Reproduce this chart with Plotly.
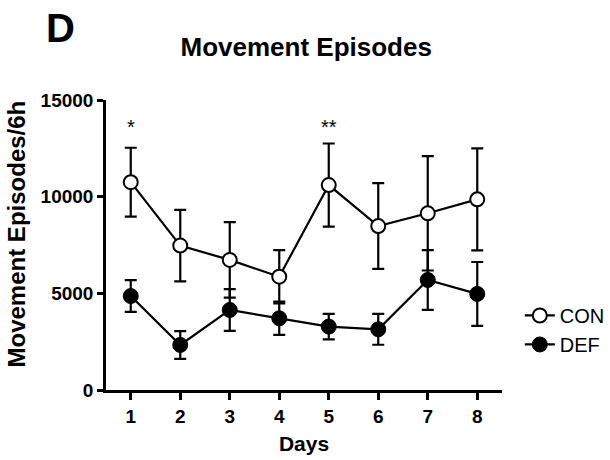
import plotly.graph_objects as go

days = [1, 2, 3, 4, 5, 6, 7, 8]
con_mean = [10750, 7470, 6730, 5860, 10600, 8480, 9140, 9860]
con_err = [1780, 1850, 1950, 1380, 2150, 2220, 2960, 2640]
def_mean = [4860, 2330, 4140, 3710, 3280, 3140, 5690, 4970]
def_err = [820, 720, 1080, 860, 660, 800, 1550, 1650]
y_ticks = [0, 5000, 10000, 15000]
sig_days = [1, 5]
sig_labels = ["*", "**"]
sig_y = [13600, 13600]

FONT = "Liberation Sans, Arial, Helvetica, sans-serif"

fig = go.Figure()
fig.add_trace(go.Scatter(
    x=days, y=con_mean, name="CON", mode="lines+markers",
    line=dict(color="black", width=2.2),
    marker=dict(symbol="circle", size=14, color="white", line=dict(color="black", width=2)),
    error_y=dict(type="data", array=con_err, visible=True, color="black", thickness=2.2, width=6),
))
fig.add_trace(go.Scatter(
    x=days, y=def_mean, name="DEF", mode="lines+markers",
    line=dict(color="black", width=2.2),
    marker=dict(symbol="circle", size=15, color="black", line=dict(color="black", width=1)),
    error_y=dict(type="data", array=def_err, visible=True, color="black", thickness=2.2, width=6),
))

for d, lab, yy in zip(sig_days, sig_labels, sig_y):
    fig.add_annotation(x=d, y=yy, text=lab, showarrow=False,
                       font=dict(family=FONT, size=20, color="black"), yanchor="middle")

fig.add_annotation(xref="paper", yref="paper", x=-0.226, y=0.538, text="Movement Episodes/6h",
                   textangle=-90, showarrow=False, xanchor="center", yanchor="middle",
                   font=dict(family=FONT, size=24, color="black", weight="bold"))
fig.add_annotation(xref="paper", yref="paper", x=-0.116, y=1.25, text="D", showarrow=False,
                   xanchor="center", yanchor="middle",
                   font=dict(family=FONT, size=40, color="black", weight="bold"))

fig.update_layout(
    width=610, height=460,
    margin=dict(l=106, r=108, t=100, b=70, autoexpand=False),
    paper_bgcolor="white", plot_bgcolor="white",
    title=dict(text="Movement Episodes", x=0.502, xanchor="center", y=0.897, yanchor="middle",
               font=dict(family=FONT, size=26, color="black", weight="bold")),
    showlegend=True,
    legend=dict(x=1.045, y=0.207, xanchor="left", yanchor="middle",
                font=dict(family=FONT, size=20, color="black"),
                bgcolor="rgba(0,0,0,0)", tracegroupgap=0),
    font=dict(family=FONT, color="black"),
)
fig.update_xaxes(
    range=[0.5, 8.5], tickvals=days, ticktext=[str(d) for d in days],
    showline=True, linecolor="black", linewidth=2.5, ticks="outside", ticklen=7,
    tickwidth=2.5, tickcolor="black", showgrid=False, zeroline=False,
    tickfont=dict(family=FONT, size=19, color="black", weight="bold"),
    title=dict(text="Days", font=dict(family=FONT, size=21, color="black", weight="bold"), standoff=11),
)
fig.update_yaxes(
    range=[0, 15000], tickvals=y_ticks, ticktext=[str(v) for v in y_ticks],
    showline=True, linecolor="black", linewidth=2.5, ticks="outside", ticklen=6,
    tickwidth=2.5, tickcolor="black", showgrid=False, zeroline=False,
    tickfont=dict(family=FONT, size=19, color="black", weight="bold"),
)

fig.write_html("out.html")
